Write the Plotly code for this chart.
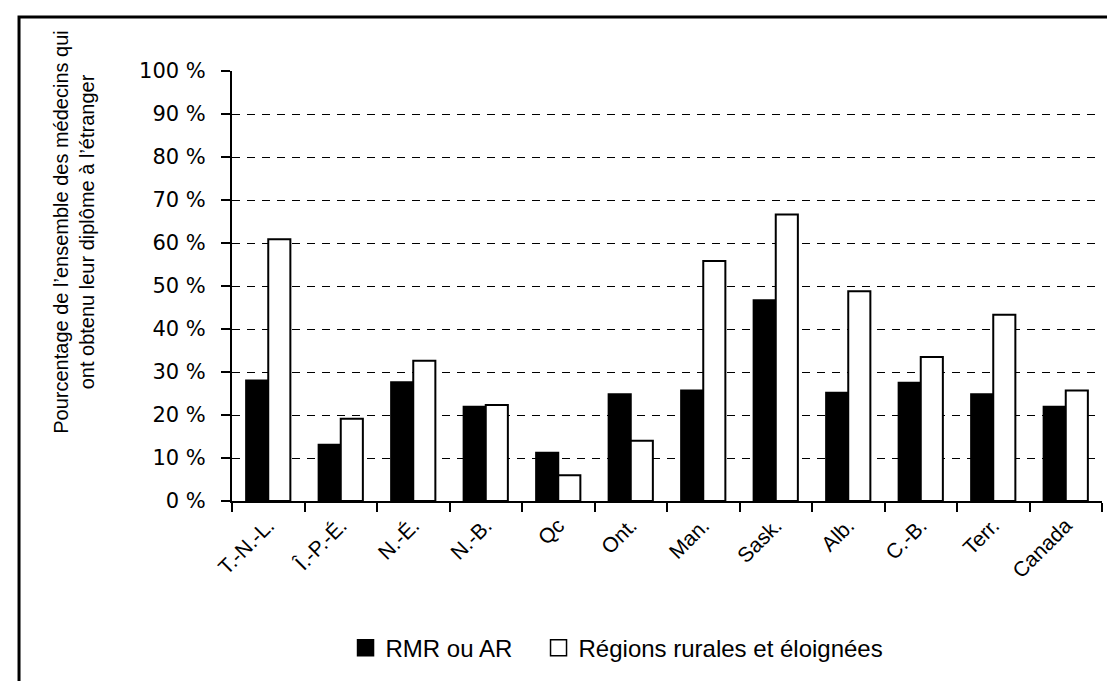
import plotly.graph_objects as go

categories = ["T.-N.-L.", "Î.-P.-É.", "N.-É.", "N.-B.", "Qc", "Ont.", "Man.", "Sask.", "Alb.", "C.-B.", "Terr.", "Canada"]
rmr_ar = [28.0, 13.1, 27.6, 21.9, 11.2, 24.8, 25.7, 46.7, 25.2, 27.5, 24.8, 21.9]
rural = [60.9, 19.1, 32.6, 22.3, 6.0, 14.0, 55.8, 66.6, 48.8, 33.5, 43.3, 25.7]
series_names = ["RMR ou AR", "Régions rurales et éloignées"]
series_fill = ["black", "white"]
y_ticks = [0, 10, 20, 30, 40, 50, 60, 70, 80, 90, 100]
y_tick_labels = [f"{v} %" for v in y_ticks]
y_title = "Pourcentage de l’ensemble des médecins qui<br>ont obtenu leur diplôme à l’étranger"

fig = go.Figure()
for vals, name, fill in zip([rmr_ar, rural], series_names, series_fill):
    fig.add_trace(go.Bar(x=categories, y=vals, name=name, showlegend=False,
                         marker=dict(color=fill, line=dict(color="black", width=2))))
# legend entries with larger square swatches
for i, (name, fill) in enumerate(zip(series_names, series_fill)):
    fig.add_trace(go.Scatter(x=[None], y=[None], mode="markers", name=name,
                             legendwidth=148 if i == 0 else None,
                             marker=dict(symbol="square", size=16, color=fill,
                                         line=dict(color="black", width=1.5))))

fig.update_layout(
    width=1115, height=681,
    margin=dict(l=224, r=21, t=63, b=188),
    paper_bgcolor="white", plot_bgcolor="white",
    barmode="group", bargap=0.39, bargroupgap=0,
    font=dict(family="Liberation Sans, Arial", size=21, color="black"),
    showlegend=True,
    legend=dict(orientation="h", x=0.1305, xanchor="left", y=-0.342, yanchor="middle",
                font=dict(family="Liberation Sans, Arial", size=24), itemwidth=30,
                traceorder="normal", itemsizing="trace"),
)
fig.update_xaxes(
    type="category", showline=True, linecolor="black", linewidth=2,
    ticks="outside", tickson="boundaries", ticklen=9, tickcolor="black", tickwidth=2,
    tickangle=-45, tickfont=dict(family="Liberation Sans, Arial", size=21),
    ticklabelstandoff=2, showgrid=False,
)
fig.update_yaxes(
    range=[0, 100], tickvals=y_ticks, ticktext=y_tick_labels,
    showline=True, linecolor="black", linewidth=2,
    ticks="outside", ticklen=9, tickcolor="black", tickwidth=2,
    tickfont=dict(family="DejaVu Sans", size=21),
    showgrid=True, gridcolor="black", gridwidth=1, griddash="8px,7px",
    zeroline=False, ticklabelstandoff=11,
)
fig.add_annotation(
    text=y_title, xref="paper", yref="paper", x=-0.181, y=0.625,
    textangle=-90, showarrow=False, xanchor="center", yanchor="middle",
    font=dict(family="Liberation Sans, Arial", size=20),
)
fig.add_shape(type="rect", xref="paper", yref="paper",
              x0=-0.2448, x1=1.05, y0=-0.5, y1=1.1256,
              line=dict(color="black", width=3), fillcolor="rgba(0,0,0,0)", layer="below")

fig.write_html("out.html")
